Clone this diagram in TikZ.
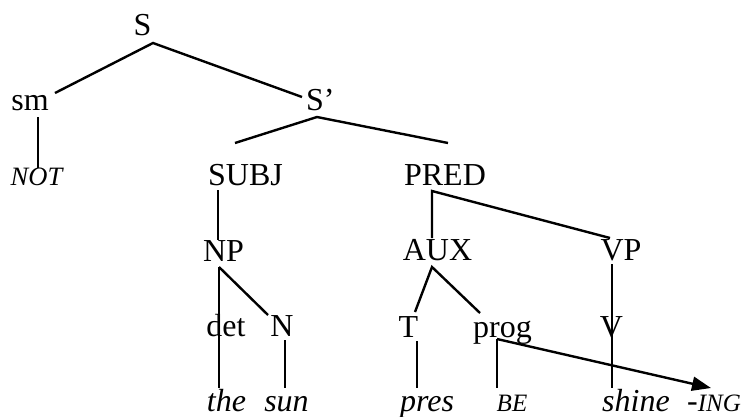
\documentclass[tikz,border=0pt]{standalone}
\usepackage{fontspec}
\setmainfont{Liberation Serif}
\usetikzlibrary{arrows.meta}
\begin{document}
\begin{tikzpicture}[x=1pt,y=-1pt,
  lbl/.style={inner sep=0pt, anchor=base, font=\fontsize{32}{38}\selectfont},
  lex/.style={lbl, font=\fontsize{32}{38}\selectfont\itshape},
  slex/.style={lbl, font=\fontsize{25}{30}\selectfont\itshape},
  br/.style={line width=2.4pt, line cap=butt},
  mv/.style={br, -{Triangle[length=19pt,width=14pt]}},
  ]
\useasboundingbox (0,0) rectangle (745,416);
% labels
\node[lbl] (S) at (142.5,35) {S};
\node[lbl] (sm) at (30,110) {sm};
\node[lbl, anchor=base west] (Sp) at (306,110) {S’};
\node[slex, font=\fontsize{26.5}{30}\selectfont\itshape] (NOT) at (36.5,185) {NOT};
\node[lbl] (SUBJ) at (245.5,185) {SUBJ};
\node[lbl] (PRED) at (445,185) {PRED};
\node[lbl] (NP) at (223.5,261) {NP};
\node[lbl] (AUX) at (437.5,260) {AUX};
\node[lbl] (VP) at (621,260) {VP};
\node[lbl] (det) at (226,336) {det};
\node[lbl] (N) at (282,336) {N};
\node[lbl] (T) at (408.5,337) {T};
\node[lbl] (prog) at (502.5,337) {prog};
\node[lbl] (V) at (611.5,337) {V};
\node[lex] (the) at (226.5,411) {the};
\node[lex] (sun) at (286.5,411) {sun};
\node[lex] (pres) at (427,411) {pres};
\node[slex] (BE) at (512,411) {BE};
\node[lex] (shine) at (636,411) {shine};
\node[lex, anchor=base west] (ING) at (687,411) {-{\fontsize{25}{30}\selectfont ING}};
% attachment points
\coordinate (S-d) at (153,43);
\coordinate (sm-u) at (55,93);
\coordinate (sm-d) at (38,117);
\coordinate (NOT-u) at (38,168);
\coordinate (Sp-u) at (302,97);
\coordinate (Sp-d) at (317,117);
\coordinate (SUBJ-u) at (235,143);
\coordinate (SUBJ-d) at (218,190);
\coordinate (PRED-u) at (448,143);
\coordinate (PRED-d) at (432,191);
\coordinate (NP-u) at (218,240);
\coordinate (NP-d) at (219,267);
\coordinate (AUX-u) at (432,238);
\coordinate (AUX-d) at (432,267);
\coordinate (VP-u) at (610,238);
\coordinate (VP-d) at (612,264);
\coordinate (N-u) at (268,315);
\coordinate (N-d) at (285,340);
\coordinate (T-u) at (415,312);
\coordinate (T-d) at (417,341);
\coordinate (prog-u) at (480,313);
\coordinate (prog-d) at (497,339);
\coordinate (the-u) at (219,388);
\coordinate (sun-u) at (285,388);
\coordinate (pres-u) at (417,388);
\coordinate (BE-u) at (497,388);
\coordinate (shine-u) at (612,388);
\coordinate (ING-u) at (711,388);
% branches
\draw[br] (sm-u) -- (S-d) -- (Sp-u);
\draw[br] (sm-d) -- (NOT-u);
\draw[br] (SUBJ-u) -- (Sp-d) -- (PRED-u);
\draw[br] (SUBJ-d) -- (NP-u);
\draw[br] (AUX-u) -- (PRED-d) -- (VP-u);
\draw[br] (NP-d) -- (the-u);
\draw[br] (NP-d) -- (N-u);
\draw[br] (N-d) -- (sun-u);
\draw[br] (T-u) -- (AUX-d) -- (prog-u);
\draw[br] (T-d) -- (pres-u);
\draw[br] (prog-d) -- (BE-u);
\draw[br] (VP-d) -- (shine-u);
\draw[mv] (prog-d) -- (ING-u);
\end{tikzpicture}
\end{document}
